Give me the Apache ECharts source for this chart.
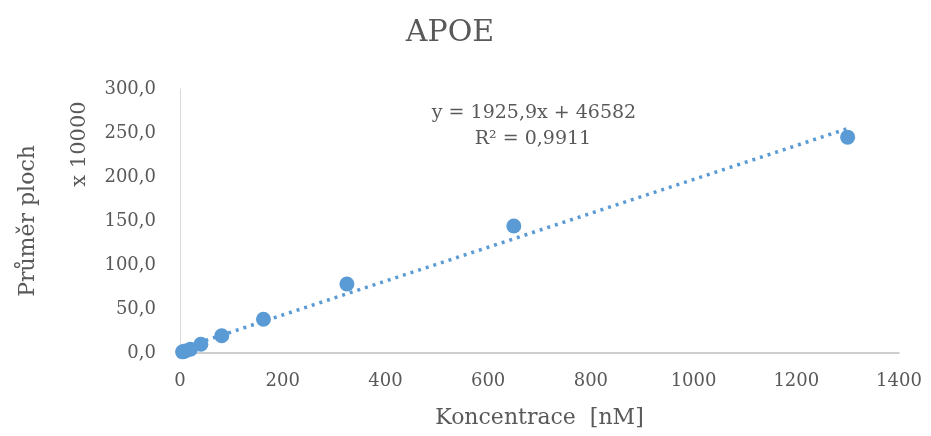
<!DOCTYPE html>
<html>
<head>
<meta charset="utf-8">
<script src="https://cdn.jsdelivr.net/npm/echarts@6/dist/echarts.min.js"></script>
<style>
  html, body { margin: 0; padding: 0; background: #fff; }
  #chart { width: 931px; height: 436px; }
</style>
</head>
<body>
<div id="chart"></div>
<script>
// Calibration points: concentration [nM] vs. mean peak area (in units of 10 000)
const concentrations = [5.08, 10.16, 20.3, 40.6, 81.25, 162.5, 325, 650, 1300];
const meanAreas = [1.3, 2.4, 4.2, 9.9, 19.6, 38.3, 78.4, 144.3, 245.3];

// Linear trendline as stated in the equation label (raw units)
const slope = 1925.9;
const intercept = 46582;
const rSquared = '0,9911';
const areaScale = 10000;

const xTicks = [0, 200, 400, 600, 800, 1000, 1200, 1400];
const yTicks = [0, 50, 100, 150, 200, 250, 300];

const titleText = 'APOE';
const xName = 'Koncentrace  [nM]';
const yName = 'Průměr ploch';
const yUnit = 'x 10000';

const textColor = '#595959';
const markColor = '#5B9BD5';
const fontFamily = '"DejaVu Serif", serif';

const points = concentrations.map((c, i) => [c, meanAreas[i]]);
const xFirst = concentrations[0];
const xLast = concentrations[concentrations.length - 1];
const trend = [xFirst, xLast].map(x => [x, (slope * x + intercept) / areaScale]);

const fmtNum = v => String(v).replace('.', ',');

const chart = echarts.init(document.getElementById('chart'), null, { renderer: 'canvas' });
chart.setOption({
  animation: false,
  backgroundColor: '#ffffff',
  grid: { left: 180, right: 32, top: 89, bottom: 83 },
  xAxis: {
    type: 'value',
    min: xTicks[0],
    max: xTicks[xTicks.length - 1],
    interval: xTicks[1] - xTicks[0],
    axisLine: { show: true, lineStyle: { color: '#BFBFBF', width: 1.5 } },
    axisTick: { show: false },
    splitLine: { show: false },
    axisLabel: { color: textColor, fontFamily, fontSize: 18, margin: 19, formatter: v => String(v) },
    name: xName,
    nameLocation: 'middle',
    nameGap: 54,
    nameTextStyle: { color: textColor, fontFamily, fontSize: 22 }
  },
  yAxis: {
    type: 'value',
    min: yTicks[0],
    max: yTicks[yTicks.length - 1],
    interval: yTicks[1] - yTicks[0],
    axisLine: { show: true, lineStyle: { color: '#D9D9D9', width: 1 } },
    axisTick: { show: false },
    splitLine: { show: false },
    axisLabel: {
      color: textColor, fontFamily, fontSize: 18, margin: 24,
      formatter: v => v.toFixed(1).replace('.', ',')
    }
  },
  graphic: [
    {
      type: 'text',
      x: 450, y: 33,
      style: {
        text: titleText, fill: textColor, font: '30px ' + fontFamily,
        align: 'center', verticalAlign: 'middle'
      }
    },
    {
      type: 'text',
      x: 28, y: 221,
      rotation: Math.PI / 2,
      style: {
        text: yName, fill: textColor, font: '22px ' + fontFamily,
        align: 'center', verticalAlign: 'middle'
      }
    },
    {
      type: 'text',
      x: 80, y: 144,
      rotation: Math.PI / 2,
      style: {
        text: yUnit, fill: textColor, font: '21px ' + fontFamily,
        align: 'center', verticalAlign: 'middle'
      }
    },
    {
      type: 'text',
      x: 534, y: 113,
      style: {
        text: 'y = ' + fmtNum(slope) + 'x + ' + intercept,
        fill: textColor, font: '19px ' + fontFamily,
        align: 'center', verticalAlign: 'middle'
      }
    },
    {
      type: 'text',
      x: 533, y: 139,
      style: {
        text: 'R² = ' + rSquared,
        fill: textColor, font: '19px ' + fontFamily,
        align: 'center', verticalAlign: 'middle'
      }
    }
  ],
  series: [
    {
      type: 'line',
      data: trend,
      symbol: 'none',
      silent: true,
      z: 3,
      lineStyle: { color: markColor, width: 3.5, type: [3, 5], cap: 'butt' }
    },
    {
      type: 'scatter',
      data: points,
      symbol: 'circle',
      symbolSize: 15,
      z: 4,
      itemStyle: { color: markColor, opacity: 1 }
    }
  ]
});
</script>
</body>
</html>
